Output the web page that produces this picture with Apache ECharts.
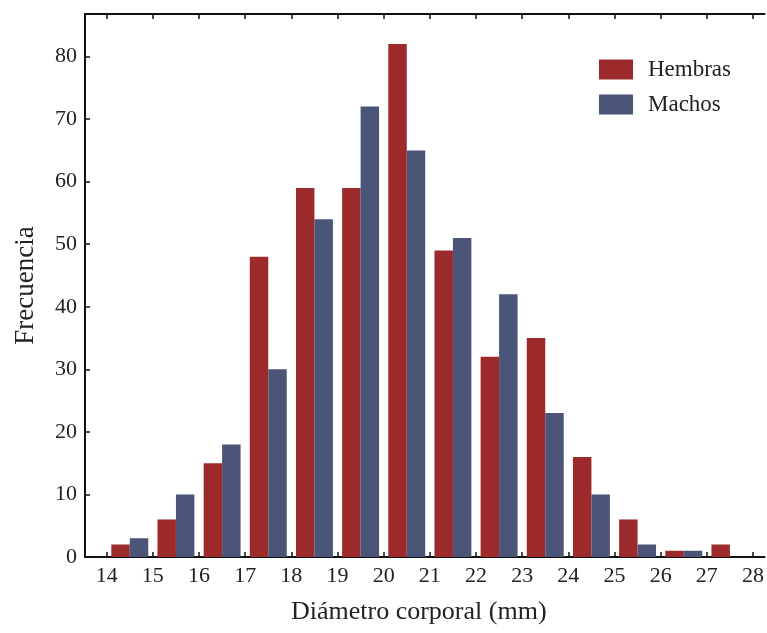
<!DOCTYPE html>
<html>
<head>
<meta charset="utf-8">
<script src="https://cdn.jsdelivr.net/npm/echarts@6/dist/echarts.min.js"></script>
<style>
  html, body { margin: 0; padding: 0; background: #fff; }
  #chart { width: 767px; height: 633px; }
</style>
</head>
<body>
<div id="chart"></div>
<script>
// lower edge of each 1 mm class
var bins = [14, 15, 16, 17, 18, 19, 20, 21, 22, 23, 24, 25, 26, 27];
var hembras = [2, 6, 15, 48, 59, 59, 82, 49, 32, 35, 16, 6, 1, 2];
var machos = [3, 10, 18, 30, 54, 72, 65, 51, 42, 23, 10, 2, 1, 0];
var xTicks = [14, 15, 16, 17, 18, 19, 20, 21, 22, 23, 24, 25, 26, 27, 28];
var yTicks = [0, 10, 20, 30, 40, 50, 60, 70, 80];

var serif = 'Liberation Serif';
var chart = echarts.init(document.getElementById('chart'));

function barRenderer(off0, off1) {
    return function (params, api) {
        var x = api.value(0), v = api.value(1);
        if (!v) return null;
        var p0 = api.coord([x + off0, 0]);
        var p1 = api.coord([x + off1, v]);
        return {
            type: 'rect',
            shape: { x: p0[0], y: p1[1], width: p1[0] - p0[0], height: p0[1] - p1[1] },
            style: api.style()
        };
    };
}

function pairs(vals) {
    return bins.map(function (b, i) { return [b, vals[i]]; });
}

var axisLine = { show: true, lineStyle: { color: '#111', width: 2 } };
var tickStyle = { lineStyle: { color: '#111', width: 1.5 } };

options = {
    animation: false,
    grid: { left: 85, right: -2, top: 14, bottom: 76 },
    legend: {
        data: ['Hembras', 'Machos'],
        orient: 'vertical',
        left: 594,
        top: 53,
        icon: 'rect',
        itemWidth: 34,
        itemHeight: 20,
        itemGap: 12,
        textStyle: { fontFamily: serif, fontSize: 23, color: '#222', padding: [0, 0, 0, 10], lineHeight: 20 }
    },
    xAxis: [
        {
            type: 'value',
            min: 13.53,
            max: 28.25,
            position: 'bottom',
            name: 'Diámetro corporal (mm)',
            nameLocation: 'middle',
            nameGap: 42,
            nameTextStyle: { fontFamily: serif, fontSize: 26, color: '#222', padding: [0, 12, 0, 0] },
            axisLine: axisLine,
            axisTick: Object.assign({ show: true, inside: true, length: 5, customValues: xTicks }, tickStyle),
            axisLabel: { customValues: xTicks, fontFamily: serif, fontSize: 22, color: '#222', margin: 8 },
            splitLine: { show: false }
        },
        {
            type: 'value',
            min: 13.53,
            max: 28.25,
            position: 'top',
            axisLine: axisLine,
            axisTick: Object.assign({ show: true, inside: true, length: 5, customValues: xTicks }, tickStyle),
            axisLabel: { show: false },
            splitLine: { show: false }
        }
    ],
    yAxis: [
        {
            type: 'value',
            min: 0,
            max: 86.8,
            name: 'Frecuencia',
            nameLocation: 'middle',
            nameGap: 46,
            nameTextStyle: { fontFamily: serif, fontSize: 27, color: '#222' },
            axisLine: axisLine,
            axisTick: Object.assign({ show: true, inside: true, length: 5, customValues: yTicks }, tickStyle),
            axisLabel: { customValues: yTicks, fontFamily: serif, fontSize: 22, color: '#222', margin: 8 },
            splitLine: { show: false }
        }
    ],
    series: [
        {
            name: 'Hembras',
            type: 'custom',
            renderItem: barRenderer(0.1, 0.5),
            itemStyle: { color: '#9c2a2a' },
            encode: { x: 0, y: 1 },
            data: pairs(hembras)
        },
        {
            name: 'Machos',
            type: 'custom',
            renderItem: barRenderer(0.5, 0.9),
            itemStyle: { color: '#4a5577' },
            encode: { x: 0, y: 1 },
            data: pairs(machos)
        }
    ]
};

chart.setOption(options);
</script>
</body>
</html>
